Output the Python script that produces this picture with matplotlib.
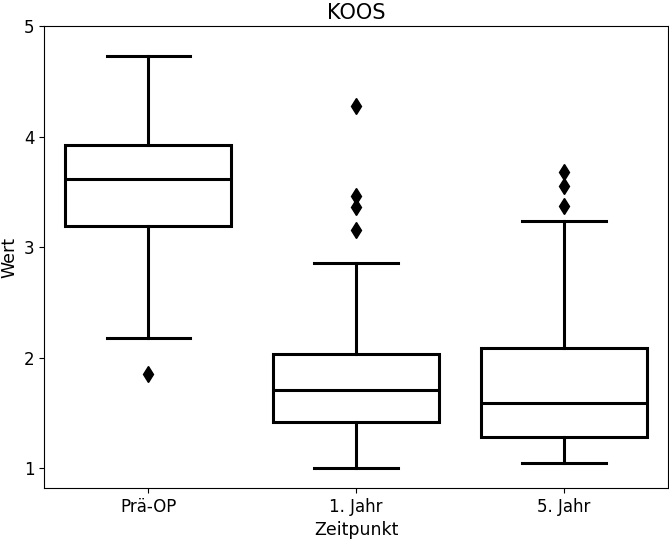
import matplotlib
matplotlib.use("Agg")
import matplotlib.pyplot as plt

# Werte
zeitpunkte = ["Prä-OP", "1. Jahr", "5. Jahr"]
whisker_low = [2.18, 1.00, 1.05]
q1 = [3.19, 1.42, 1.28]
median = [3.62, 1.71, 1.59]
q3 = [3.92, 2.03, 2.09]
whisker_high = [4.73, 2.86, 3.24]
ausreisser = [
    [1.85],
    [4.28, 3.46, 3.36, 3.15],
    [3.68, 3.55, 3.37],
]

stats = []
for i, name in enumerate(zeitpunkte):
    stats.append({
        "label": name,
        "whislo": whisker_low[i],
        "q1": q1[i],
        "med": median[i],
        "q3": q3[i],
        "whishi": whisker_high[i],
        "fliers": ausreisser[i],
    })

plt.rcParams["font.family"] = ["DejaVu Sans"]
plt.rcParams["font.size"] = 12

fig = plt.figure(figsize=(6.69, 5.42), dpi=100)
ax = fig.add_axes([0.066, 0.0996, 0.9325, 0.8524])

lw = 2.2
ax.bxp(stats, positions=range(len(zeitpunkte)), widths=0.8, patch_artist=True,
       boxprops=dict(facecolor="white", edgecolor="black", linewidth=lw),
       medianprops=dict(color="black", linewidth=lw),
       whiskerprops=dict(color="black", linewidth=lw),
       capprops=dict(color="black", linewidth=lw),
       flierprops=dict(marker="d", markerfacecolor="black", markeredgecolor="black",
                       markersize=8, linestyle="none"),
       capwidths=0.4)

ax.set_xlim(-0.5, 2.5)
ax.set_ylim(0.82, 5.0)
ax.set_yticks([1, 2, 3, 4, 5])
ax.set_xticks(range(len(zeitpunkte)))
ax.set_xticklabels(zeitpunkte)
ax.set_title("KOOS", fontsize=15, pad=5)
ax.set_xlabel("Zeitpunkt", fontsize=12.5)
ax.set_ylabel("Wert", fontsize=12.5)

fig.savefig("out.png", dpi=100)
